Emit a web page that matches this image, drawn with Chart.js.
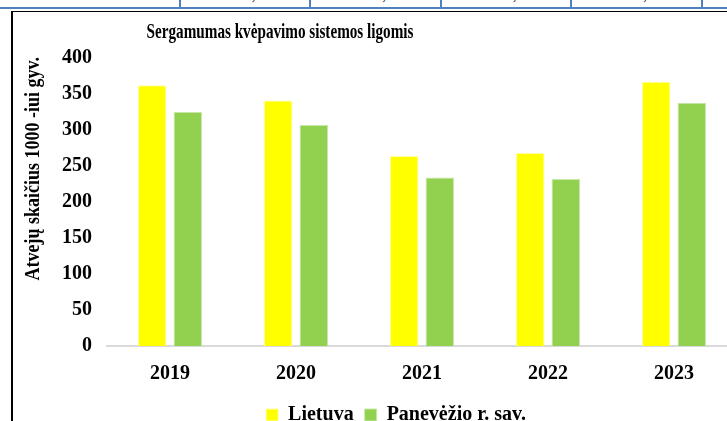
<!DOCTYPE html>
<html lang="lt">
<head>
<meta charset="utf-8">
<script src="https://cdn.jsdelivr.net/npm/chart.js@4/dist/chart.umd.min.js"></script>
<style>
    html, body { margin: 0; padding: 0; background: #fff; }
    body { width: 727px; height: 421px; overflow: hidden; position: relative; font-family: "Liberation Serif", serif; }
    .tbl { position: absolute; left: 0; top: 0; width: 727px; height: 7px; overflow: hidden; border-bottom: 2px solid #4f81bd; }
    .tbl div { position: absolute; top: -14px; height: 21px; font-size: 17px; line-height: 17px; color: #222; text-align: center; border-right: 2px solid #4f81bd; }
    .frame { position: absolute; left: 11px; top: 11px; width: 800px; height: 500px; border-left: 2px solid #000; border-top: 1px solid #000; }
    .box { position: absolute; left: 13px; top: 12px; width: 748px; height: 423px; }
</style>
</head>
<body>
<div class="tbl">
    <div style="left:0;width:179px">Panevėžio r. sav.</div>
    <div style="left:181px;width:128px">324,6</div>
    <div style="left:311px;width:129px">307,2</div>
    <div style="left:442px;width:128px">234,1</div>
    <div style="left:572px;width:129px">232,5</div>
</div>
<div class="frame"></div>
<div class="box"><canvas id="chart-bars"></canvas></div>
<script>
    // Sergamumas kvėpavimo sistemos ligomis, atvejų 1000-iui gyv.
    var years = ['2019', '2020', '2021', '2022', '2023'];
    var lietuva = [362, 341, 264, 268, 367];
    var panevezys = [325, 307, 234, 232, 338];
    var yTicks = [0, 50, 100, 150, 200, 250, 300, 350, 400];

    var chartTitle = 'Sergamumas kvėpavimo sistemos ligomis';
    var axisTitle = 'Atvejų skaičius 1000 -iui gyv.';
    var serif = '"Liberation Serif", "Times New Roman", serif';

    // titles are drawn by hand: the source font is narrower than Times
    var titlesPlugin = {
        id: 'titles',
        afterDraw: function (chart) {
            var ctx = chart.ctx;
            ctx.save();
            ctx.fillStyle = '#000';
            ctx.font = 'bold 22px ' + serif;
            ctx.textBaseline = 'middle';
            ctx.textAlign = 'center';
            ctx.translate(267, 20);
            ctx.scale(0.69, 1);
            ctx.fillText(chartTitle, 0, 0);
            ctx.restore();

            ctx.save();
            ctx.fillStyle = '#000';
            ctx.font = 'bold 20px ' + serif;
            ctx.textBaseline = 'middle';
            ctx.textAlign = 'right';
            ctx.translate(21, chart.chartArea.top - 1);
            ctx.rotate(-Math.PI / 2);
            ctx.scale(0.9, 1);
            ctx.fillText(axisTitle, 0, 0);
            ctx.restore();
        }
    };

    var tickFont = { family: serif, size: 20, weight: 'bold' };

    new Chart(document.getElementById('chart-bars').getContext('2d'), {
        type: 'bar',
        data: {
            labels: years,
            datasets: [{
                label: 'Lietuva',
                data: lietuva,
                backgroundColor: '#ffff00',
                borderColor: '#ffffa8',
                borderWidth: 1
            }, {
                label: 'Panevėžio r. sav.',
                data: panevezys,
                backgroundColor: '#92d050',
                borderColor: '#c8e8aa',
                borderWidth: 1
            }]
        },
        options: {
            responsive: true,
            maintainAspectRatio: false,
            animation: false,
            datasets: {
                bar: { barPercentage: 0.8, categoryPercentage: 0.565 }
            },
            layout: { padding: { left: 42, top: 46, right: 24, bottom: 0 } },
            plugins: {
                title: { display: false },
                tooltip: { enabled: false },
                legend: {
                    position: 'bottom',
                    labels: {
                        color: '#000',
                        font: tickFont,
                        boxWidth: 12,
                        boxHeight: 12,
                        padding: 11
                    }
                }
            },
            scales: {
                x: {
                    grid: { display: false },
                    border: { color: '#d9d9d9', width: 2 },
                    ticks: { color: '#000', font: tickFont, padding: 8 }
                },
                y: {
                    min: 0,
                    max: 400,
                    afterBuildTicks: function (axis) {
                        axis.ticks = yTicks.map(function (v) { return { value: v }; });
                    },
                    grid: { display: false },
                    border: { display: false },
                    ticks: { color: '#000', font: tickFont, padding: 7 }
                }
            }
        },
        plugins: [titlesPlugin]
    });
</script>
</body>
</html>
